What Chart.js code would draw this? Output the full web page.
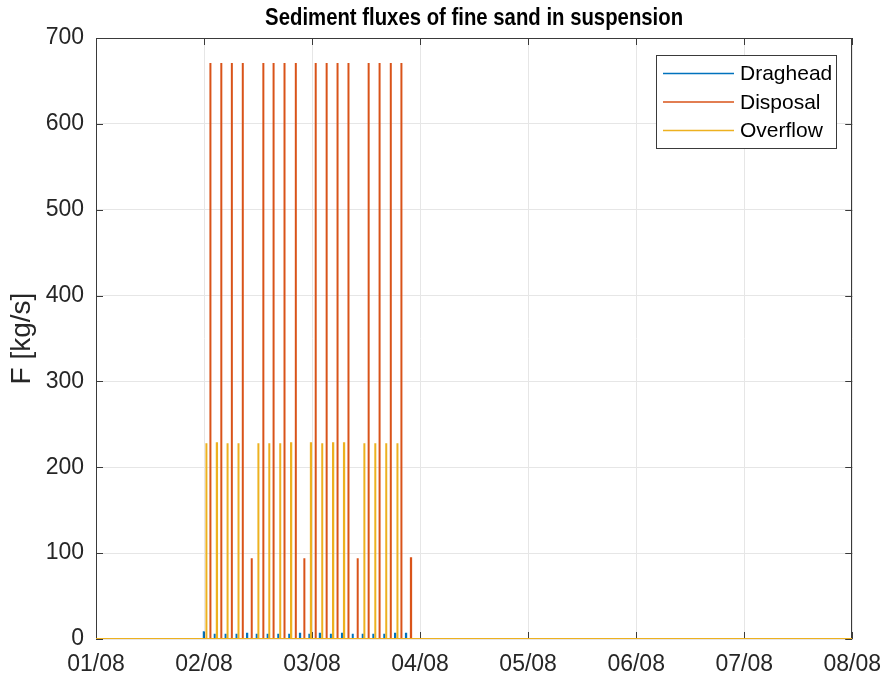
<!DOCTYPE html>
<html>
<head>
<meta charset="utf-8">
<script src="https://cdn.jsdelivr.net/npm/chart.js@4/dist/chart.umd.min.js"></script>
<style>
  html, body { margin: 0; padding: 0; background: #ffffff; }
  #wrap { width: 893px; height: 681px; }
</style>
</head>
<body>
<div id="wrap"><canvas id="c" width="893" height="681"></canvas></div>
<script>
// Axis labels
const dateLabels = ['01/08', '02/08', '03/08', '04/08', '05/08', '06/08', '07/08', '08/08'];
const yTicks = [0, 100, 200, 300, 400, 500, 600, 700];
const seriesNames = ['Draghead', 'Disposal', 'Overflow'];
const seriesColors = ['#0072BD', '#D95319', '#EDB120'];

// Event times in hours after 01/08 00:00 and the peak flux of each event [kg/s]
const dragheadHours = [23.90, 26.33, 28.75, 31.18, 33.54, 35.66, 38.09, 40.45, 42.88, 45.30,
                       47.36, 49.72, 52.14, 54.64, 57.00, 59.21, 61.57, 64.00, 66.42, 68.85];
const dragheadFlux  = [9, 6, 6, 6, 6, 6, 6, 6, 6, 6,
                       6, 6, 6, 6, 6, 6, 6, 6, 6, 6];

const disposalHours = [25.38, 27.80, 30.14, 32.57, 34.56, 37.14, 39.41, 41.84, 44.35, 46.25,
                       48.77, 51.20, 53.62, 56.05, 58.10, 60.53, 62.96, 65.45, 67.81, 69.95];
const disposalFlux  = [671, 671, 671, 671, 94, 671, 671, 671, 671, 94,
                       671, 671, 671, 671, 94, 671, 671, 671, 671, 94];

const overflowHours = [24.49, 26.83, 29.19, 31.62, 36.04, 38.46, 40.89, 43.32,
                       47.73, 50.22, 52.65, 55.08, 59.58, 62.01, 64.44, 66.93];
const overflowFlux  = [228, 228, 228, 228, 228, 228, 228, 228,
                       228, 228, 228, 228, 228, 228, 228, 228];

const startHour = 0;
const endHour = 168;
const pulseLength = 0.06; // hours each flux event lasts

// Turns event lists into a step-shaped time series that sits at zero between events
function pulseSeries(hours, flux) {
  const pts = [{ x: startHour, y: 0 }];
  hours.forEach((t, i) => {
    pts.push({ x: t, y: 0 }, { x: t, y: flux[i] }, { x: t + pulseLength, y: flux[i] }, { x: t + pulseLength, y: 0 });
  });
  pts.push({ x: endHour, y: 0 });
  return pts;
}

const axisColor = '#262626';
const frameColor = '#3a3a3a';
const fontFamily = "'Liberation Sans', Arial, Helvetica, sans-serif";

// Axes box and inward tick marks, under the data lines
const framePlugin = {
  id: 'frame',
  beforeDatasetsDraw(chart) {
    const ctx = chart.ctx;
    const { left, right, top, bottom } = chart.chartArea;
    const xs = chart.scales.x, ys = chart.scales.y;
    ctx.save();
    ctx.strokeStyle = frameColor;
    ctx.lineWidth = 1;
    ctx.strokeRect(Math.round(left) + 0.5, Math.round(top) + 0.5, Math.round(right - left) - 1, Math.round(bottom - top) - 1);
    const tl = 7;
    ctx.beginPath();
    xs.ticks.forEach(t => {
      const px = Math.round(xs.getPixelForValue(t.value)) + 0.5;
      ctx.moveTo(px, bottom); ctx.lineTo(px, bottom - tl);
      ctx.moveTo(px, top); ctx.lineTo(px, top + tl);
    });
    ys.ticks.forEach(t => {
      const py = Math.round(ys.getPixelForValue(t.value)) + 0.5;
      ctx.moveTo(left, py); ctx.lineTo(left + tl, py);
      ctx.moveTo(right, py); ctx.lineTo(right - tl, py);
    });
    ctx.stroke();
    ctx.restore();
  },
  // title and legend on top
  afterDraw(chart) {
    const ctx = chart.ctx;
    const { left, right } = chart.chartArea;
    ctx.save();
    const title = 'Sediment fluxes of fine sand in suspension';
    ctx.fillStyle = '#000000';
    ctx.font = 'bold 24px ' + fontFamily;
    ctx.textAlign = 'center';
    ctx.textBaseline = 'middle';
    const tw = ctx.measureText(title).width;
    const sx = Math.min(1, 418 / tw);
    ctx.translate((left + right) / 2, 18);
    ctx.scale(sx, 1);
    ctx.fillText(title, 0, 0);
    ctx.setTransform(1, 0, 0, 1, 0, 0);

    const lx = 656.5, ly = 55.5, lw = 180, lh = 93;
    ctx.fillStyle = '#ffffff';
    ctx.fillRect(lx, ly, lw, lh);
    ctx.strokeStyle = frameColor;
    ctx.lineWidth = 1;
    ctx.strokeRect(lx, ly, lw, lh);
    ctx.font = '21px ' + fontFamily;
    ctx.textAlign = 'left';
    chart.data.datasets.forEach((ds, i) => {
      const ry = 73.5 + i * 28.5;
      ctx.strokeStyle = ds.borderColor;
      ctx.lineWidth = 1.5;
      ctx.beginPath();
      ctx.moveTo(663, ry); ctx.lineTo(734, ry);
      ctx.stroke();
      ctx.fillStyle = '#000000';
      ctx.fillText(ds.label, 740, ry + 1);
    });
    ctx.restore();
  }
};

const datasets = [
  { label: seriesNames[0], data: pulseSeries(dragheadHours, dragheadFlux), borderColor: seriesColors[0], order: 3 },
  { label: seriesNames[1], data: pulseSeries(disposalHours, disposalFlux), borderColor: seriesColors[1], order: 2 },
  { label: seriesNames[2], data: pulseSeries(overflowHours, overflowFlux), borderColor: seriesColors[2], order: 1 }
].map(d => Object.assign(d, { borderWidth: 2, pointRadius: 0, tension: 0, fill: false }));

new Chart(document.getElementById('c'), {
  type: 'line',
  data: { datasets },
  options: {
    responsive: false,
    animation: false,
    devicePixelRatio: 1,
    layout: { padding: { top: 38, right: 36, left: 0, bottom: 0 } },
    plugins: { legend: { display: false }, tooltip: { enabled: false }, title: { display: false } },
    scales: {
      x: {
        type: 'linear',
        min: startHour,
        max: endHour,
        afterBuildTicks(scale) {
          scale.ticks = dateLabels.map((_, i) => ({ value: i * 24 }));
        },
        afterFit(scale) { scale.height = 42; },
        ticks: {
          autoSkip: false,
          maxRotation: 0,
          padding: 12,
          color: axisColor,
          font: { family: fontFamily, size: 23 },
          callback: v => dateLabels[Math.round(v / 24)]
        },
        grid: { color: '#e6e6e6', drawTicks: false },
        border: { display: false }
      },
      y: {
        min: 0,
        max: 700,
        afterBuildTicks(scale) {
          scale.ticks = yTicks.map(v => ({ value: v }));
        },
        afterFit(scale) { scale.width = 96; },
        ticks: {
          padding: 12,
          color: axisColor,
          font: { family: fontFamily, size: 23 }
        },
        title: {
          display: true,
          text: 'F [kg/s]',
          color: axisColor,
          padding: { top: 5, bottom: 0 },
          font: { family: fontFamily, size: 28 }
        },
        grid: { color: '#e6e6e6', drawTicks: false },
        border: { display: false }
      }
    }
  },
  plugins: [framePlugin]
});
</script>
</body>
</html>
